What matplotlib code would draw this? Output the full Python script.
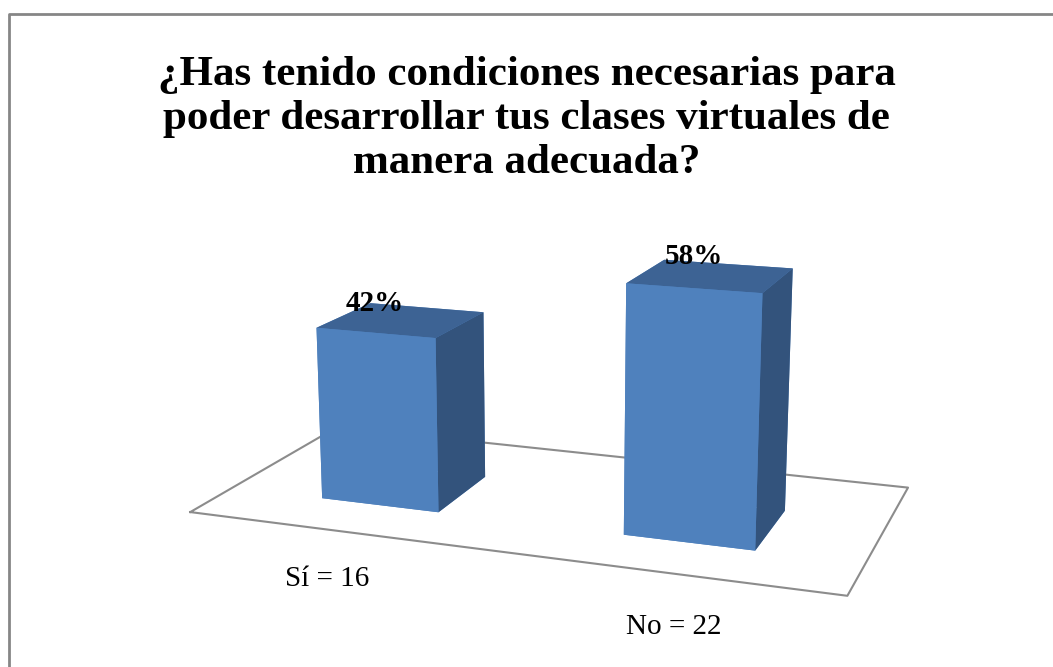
import numpy as np
import matplotlib.pyplot as plt
from matplotlib.lines import Line2D

categorias = ['Sí = 16', 'No = 22']
porcentajes = [42, 58]
etiquetas = ['42%', '58%']
titulo = '¿Has tenido condiciones necesarias para\npoder desarrollar tus clases virtuales de\nmanera adecuada?'

plt.rcParams['font.family'] = ['Liberation Serif', 'DejaVu Serif']

fig = plt.figure(figsize=(10.53, 6.67), dpi=100)
ax = fig.add_axes([0.02, -0.05, 1.0, 1.0], projection='3d')
ax.computed_zorder = False
ax.set_proj_type('persp', focal_length=0.5)
ax.view_init(elev=14, azim=-70)
ax.set_axis_off()

pos = np.arange(len(categorias))
ancho = 0.40
prof = 0.38
y0 = -prof / 2 - 0.05

# floor outline
fx = [-0.52, 1.52, 1.52, -0.52, -0.52]
fy = [-0.5, -0.5, 0.5, 0.5, -0.5]
ax.plot(fx, fy, [0] * 5, color='#8c8c8c', lw=1.5, zorder=1, clip_on=False)

# bars: faces -z, +z, -y, +y, -x, +x
caras = ['#4F81BD', '#3D6394', '#4F81BD', '#4F81BD', '#4F81BD', '#33537C']
colores = caras * len(categorias)
barras = ax.bar3d(pos - ancho / 2, np.full(len(pos), y0), np.zeros(len(pos)),
                  ancho, prof, porcentajes, color=colores, shade=False, zorder=2)
barras.set_clip_on(False)

for x, h, t in zip(pos, porcentajes, etiquetas):
    ax.text(x, y0, h + 7, t, ha='center', va='center', fontsize=21,
            fontweight='bold', zorder=5)

for x, c in zip(pos, categorias):
    ax.text(x + 0.14, -0.87, 0, c, ha='center', va='center', fontsize=21, zorder=5)

ax.set_xlim(-0.5, 1.5)
ax.set_ylim(-0.5, 0.5)
ax.set_zlim(0, 70)
ax.set_box_aspect((2, 1, 0.92), zoom=1.14)

fig.text(0.5, 0.822, titulo, ha='center', va='center', fontsize=31,
         fontweight='bold', linespacing=1.2)

# chart border (top and left)
fig.add_artist(Line2D([9 / 1053, 9 / 1053, 1], [0, 1 - 14 / 667, 1 - 14 / 667],
                      transform=fig.transFigure, color='#868686', lw=2))

fig.savefig('out.png', dpi=100)
